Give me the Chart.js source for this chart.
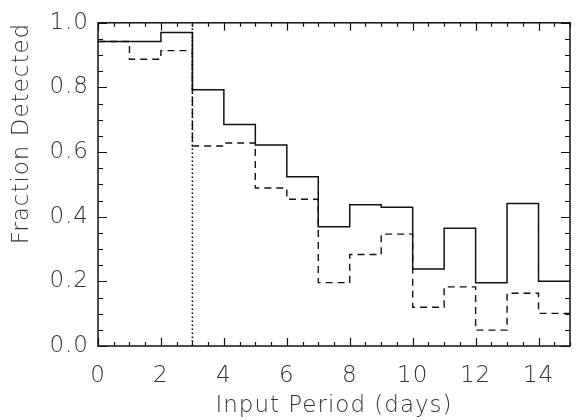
<!DOCTYPE html>
<html>
<head>
<meta charset="utf-8">
<script src="https://cdn.jsdelivr.net/npm/chart.js@4/dist/chart.umd.min.js"></script>
<style>
  html, body { margin: 0; padding: 0; background: #fff; }
  #wrap { width: 576px; height: 420px; }
</style>
</head>
<body>
<div id="wrap"><canvas id="chart"></canvas></div>
<script>
// left edge of each 1-day period bin
const binStarts = [0, 1, 2, 3, 4, 5, 6, 7, 8, 9, 10, 11, 12, 13, 14];
const binWidth = 1;
// fraction recovered per bin
const fractionSolid = [0.942, 0.942, 0.970, 0.793, 0.685, 0.622, 0.524, 0.369, 0.437, 0.429, 0.238, 0.364, 0.196, 0.441, 0.200];
const fractionDashed = [0.942, 0.887, 0.914, 0.619, 0.628, 0.489, 0.454, 0.196, 0.283, 0.346, 0.120, 0.183, 0.049, 0.163, 0.101];
// period cut marked by the dotted line
const cutPeriod = 3;

const xTicks = [0, 2, 4, 6, 8, 10, 12, 14];
const yTicks = [0.0, 0.2, 0.4, 0.6, 0.8, 1.0];

const INK = '#111';
const TEXT = '#333';
const FONT = { family: 'DejaVu Sans', size: 23, weight: 200 };

// histogram outline: one point per bin start, plus closing point at the last edge
function steps(values) {
  const pts = binStarts.map((x, i) => ({ x: x, y: values[i] }));
  pts.push({ x: binStarts[binStarts.length - 1] + binWidth, y: values[values.length - 1] });
  return pts;
}

// box frame with inward ticks on all four sides
const frameTicks = {
  id: 'frameTicks',
  beforeDraw(chart) {
    chart.ctx.letterSpacing = '1px';
  },
  afterDatasetsDraw(chart) {
    const { ctx, chartArea: a, scales: { x, y } } = chart;
    ctx.save();
    ctx.letterSpacing = '0px';
    ctx.strokeStyle = INK;
    ctx.lineWidth = 1.5;
    ctx.setLineDash([]);
    ctx.strokeRect(a.left, a.top, a.right - a.left, a.bottom - a.top);
    ctx.lineWidth = 1.2;
    ctx.beginPath();
    for (let v = x.min; v <= x.max + 1e-9; v += 0.5) {
      const px = Math.round(x.getPixelForValue(v)) + 0.5;
      const major = Math.abs(v % 2) < 1e-9;
      const len = major ? 8 : 4;
      ctx.moveTo(px, a.bottom); ctx.lineTo(px, a.bottom - len);
      ctx.moveTo(px, a.top); ctx.lineTo(px, a.top + len);
    }
    for (let v = y.min; v <= y.max + 1e-9; v += 0.05) {
      const py = Math.round(y.getPixelForValue(v)) + 0.5;
      const major = Math.abs(Math.round(v * 100) % 20) === 0;
      const len = major ? 9 : 5;
      ctx.moveTo(a.left, py); ctx.lineTo(a.left + len, py);
      ctx.moveTo(a.right, py); ctx.lineTo(a.right - len, py);
    }
    ctx.stroke();
    ctx.restore();
  }
};

new Chart(document.getElementById('chart'), {
  type: 'line',
  data: {
    datasets: [
      {
        data: [{ x: cutPeriod, y: 0 }, { x: cutPeriod, y: 1 }],
        borderColor: '#000',
        borderWidth: 1.6,
        borderDash: [1.5, 2.5],
        pointRadius: 0
      },
      {
        data: steps(fractionDashed),
        stepped: 'before',
        borderColor: INK,
        borderWidth: 1.4,
        borderDash: [7, 5],
        pointRadius: 0
      },
      {
        data: steps(fractionSolid),
        stepped: 'before',
        borderColor: INK,
        borderWidth: 1.5,
        pointRadius: 0
      }
    ]
  },
  options: {
    responsive: true,
    maintainAspectRatio: false,
    animation: false,
    layout: { padding: { top: 10, right: 6, left: 0, bottom: 0 } },
    plugins: {
      legend: { display: false },
      tooltip: { enabled: false }
    },
    scales: {
      x: {
        type: 'linear',
        min: 0,
        max: 15,
        grid: { display: false, drawTicks: false },
        border: { display: false },
        afterBuildTicks: s => { s.ticks = xTicks.map(v => ({ value: v })); },
        afterFit: s => { s.height = 74; },
        ticks: { font: FONT, color: TEXT, padding: 16, maxRotation: 0, autoSkip: false },
        title: { display: true, text: 'Input Period (days)', font: FONT, color: TEXT, padding: { top: 0, bottom: 0 } }
      },
      y: {
        min: 0,
        max: 1,
        grid: { display: false, drawTicks: false },
        border: { display: false },
        afterBuildTicks: s => { s.ticks = yTicks.map(v => ({ value: v })); },
        afterFit: s => { s.width = 98; },
        ticks: { font: FONT, color: TEXT, padding: 9, callback: v => v.toFixed(1) },
        title: { display: true, text: 'Fraction Detected', align: 'end', font: FONT, color: TEXT, padding: { top: 8, bottom: 0 } }
      }
    }
  },
  plugins: [frameTicks]
});
</script>
</body>
</html>
